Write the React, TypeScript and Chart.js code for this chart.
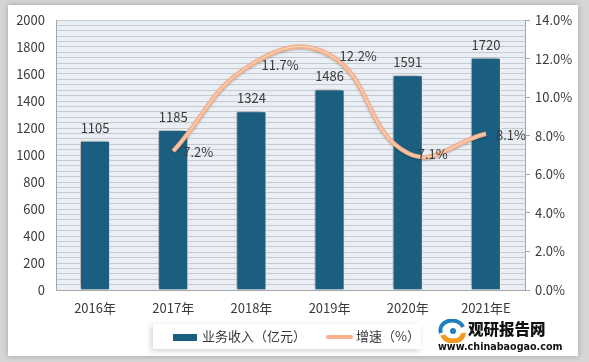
import React, { useEffect, useRef } from 'react';
import { Chart, registerables } from 'chart.js';

Chart.register(...registerables);

const categories = ['2016年', '2017年', '2018年', '2019年', '2020年', '2021年E'];
const revenue = [1105, 1185, 1324, 1486, 1591, 1720];
const growth: (number | null)[] = [null, 7.2, 11.7, 12.2, 7.1, 8.1];
const leftMax = 2000;
const leftLabelStep = 200;
const leftStripeStep = 40;
const rightMax = 14;
const rightStep = 2;
const legendBar = '业务收入（亿元）';
const legendLine = '增速（%）';

const FONT = '"Noto Sans CJK SC", "Noto Sans", sans-serif';
const BAR_COLOR = '#1b5f80';
const LINE_COLOR = '#f6b28c';
const LINE_INNER = '#fcdcc8';
const TEXT = '#3a3a3a';

const bgPlugin = {
  id: 'areaBg',
  beforeDraw(chart: any) {
    const { ctx, chartArea } = chart;
    if (!chartArea) return;
    ctx.save();
    ctx.fillStyle = '#e9eff5';
    ctx.fillRect(chartArea.left, chartArea.top, chartArea.right - chartArea.left, chartArea.bottom - chartArea.top);
    ctx.restore();
  },
};

const shadowPlugin = {
  id: 'shadows',
  beforeDatasetDraw(chart: any, args: any) {
    const ctx = chart.ctx;
    ctx.save();
    if (args.index === 0) {
      ctx.shadowColor = 'rgba(0,0,0,0.45)';
      ctx.shadowBlur = 5;
      ctx.shadowOffsetX = -2;
      ctx.shadowOffsetY = -1;
    } else if (args.index === 1) {
      ctx.shadowColor = 'rgba(0,0,0,0.25)';
      ctx.shadowBlur = 2;
      ctx.shadowOffsetX = 0;
      ctx.shadowOffsetY = 1;
    }
  },
  afterDatasetDraw(chart: any) {
    chart.ctx.restore();
  },
};

const labelPlugin = {
  id: 'valueLabels',
  afterDatasetsDraw(chart: any) {
    const ctx = chart.ctx;
    ctx.save();
    ctx.font = `13px ${FONT}`;
    ctx.fillStyle = TEXT;
    const barMeta = chart.getDatasetMeta(0);
    ctx.textAlign = 'center';
    ctx.textBaseline = 'middle';
    barMeta.data.forEach((el: any, i: number) => {
      ctx.fillText(String(revenue[i]), el.x, el.y - 13);
    });
    const lineMeta = chart.getDatasetMeta(1);
    ctx.textAlign = 'left';
    lineMeta.data.forEach((el: any, i: number) => {
      const v = growth[i];
      if (v == null) return;
      ctx.fillText(v.toFixed(1) + '%', el.x + 10, el.y + 1);
    });
    ctx.restore();
  },
};

export default function App() {
  const canvasRef = useRef<HTMLCanvasElement | null>(null);

  useEffect(() => {
    if (!canvasRef.current) return;
    const chart = new Chart(canvasRef.current, {
      type: 'bar',
      data: {
        labels: categories,
        datasets: [
          {
            type: 'bar',
            label: legendBar,
            data: revenue,
            backgroundColor: BAR_COLOR,
            borderColor: '#ffffff',
            borderWidth: 1,
            barPercentage: 0.77,
            categoryPercentage: 0.5,
            yAxisID: 'y',
            order: 3,
          },
          {
            type: 'line',
            label: legendLine,
            data: growth,
            borderColor: LINE_COLOR,
            borderWidth: 4.5,
            pointRadius: 0,
            tension: 0.45,
            fill: false,
            yAxisID: 'y1',
            order: 2,
          },
          {
            type: 'line',
            label: legendLine + '_inner',
            data: growth,
            borderColor: LINE_INNER,
            borderWidth: 1,
            pointRadius: 0,
            tension: 0.45,
            fill: false,
            yAxisID: 'y1',
            order: 1,
          },
        ],
      } as any,
      options: {
        animation: false,
        responsive: false,
        maintainAspectRatio: false,
        layout: { padding: { left: 8, right: 11, top: 20, bottom: 42 } },
        plugins: {
          legend: { display: false },
          tooltip: { enabled: false },
        },
        scales: {
          x: {
            grid: { display: false },
            border: { display: true, color: '#a6a6a6' },
            ticks: { color: TEXT, font: { family: FONT, size: 13 }, padding: 2, maxRotation: 0 },
            afterFit: (s: any) => { s.height = 30; },
          },
          y: {
            position: 'left',
            min: 0,
            max: leftMax,
            grid: { color: '#c6cbd2', lineWidth: 1, drawTicks: false },
            border: { display: true, color: '#a6a6a6' },
            ticks: {
              stepSize: leftStripeStep,
              autoSkip: false,
              color: TEXT,
              font: { family: FONT, size: 13 },
              padding: 11,
              callback: (v: any) => (Number(v) % leftLabelStep === 0 ? String(v) : ''),
            },
            afterFit: (s: any) => { s.width = 48; },
          },
          y1: {
            position: 'right',
            min: 0,
            max: rightMax,
            grid: { drawOnChartArea: false, drawTicks: true, tickLength: 5, color: '#a6a6a6' },
            border: { display: true, color: '#a6a6a6' },
            ticks: {
              stepSize: rightStep,
              color: TEXT,
              font: { family: FONT, size: 13 },
              padding: 5,
              callback: (v: any) => Number(v).toFixed(1) + '%',
            },
            afterFit: (s: any) => { s.width = 53; },
          },
        },
      } as any,
      plugins: [bgPlugin, shadowPlugin, labelPlugin],
    });
    return () => chart.destroy();
  }, []);

  return (
    <div style={{ position: 'fixed', left: 0, top: 0, width: 589, height: 362, background: '#d6d6d6', overflow: 'hidden', fontFamily: FONT }}>
      <div style={{ position: 'absolute', left: 8, top: 5, width: 570, height: 351, background: '#ffffff', boxShadow: '0 0 6px rgba(0,0,0,0.25)' }} />
      <canvas ref={canvasRef} width={589} height={362} style={{ position: 'absolute', left: 0, top: 0, width: 589, height: 362 }} />
      <div style={{ position: 'absolute', left: 153, top: 324, width: 268, height: 25, background: '#ffffff', boxShadow: '-2px 2px 6px rgba(0,0,0,0.18)' }} />
      <div style={{ position: 'absolute', left: 173, top: 334, width: 24, height: 7, background: BAR_COLOR }} />
      <div style={{ position: 'absolute', left: 202, top: 326, fontSize: 13, color: TEXT, lineHeight: '20px', whiteSpace: 'nowrap' }}>{legendBar}</div>
      <div style={{ position: 'absolute', left: 326, top: 335, width: 27, height: 4, background: LINE_COLOR, borderRadius: 2 }} />
      <div style={{ position: 'absolute', left: 356, top: 326, fontSize: 13, color: TEXT, lineHeight: '20px', whiteSpace: 'nowrap' }}>{legendLine}</div>
      <svg style={{ position: 'absolute', left: 437, top: 319 }} width={30} height={24} viewBox="0 0 30 24">
        <path d="M4 14 A11 9 0 0 1 26 8" stroke="#1e7fc1" strokeWidth={4} fill="none" />
        <path d="M6 16 A10 7 0 0 0 26 14" stroke="#f39a1e" strokeWidth={5} fill="none" />
        <circle cx={16} cy={12} r={3} fill="#1e7fc1" />
      </svg>
      <div style={{ position: 'absolute', left: 468, top: 317, fontSize: 15.5, fontWeight: 900, color: '#111', lineHeight: '22px', whiteSpace: 'nowrap', letterSpacing: 0 }}>观研报告网</div>
      <div style={{ position: 'absolute', left: 438, top: 341, fontSize: 9.6, fontWeight: 700, color: '#111', lineHeight: '12px', whiteSpace: 'nowrap', fontFamily: '"DejaVu Sans", sans-serif' }}>www.chinabaogao.com</div>
    </div>
  );
}
